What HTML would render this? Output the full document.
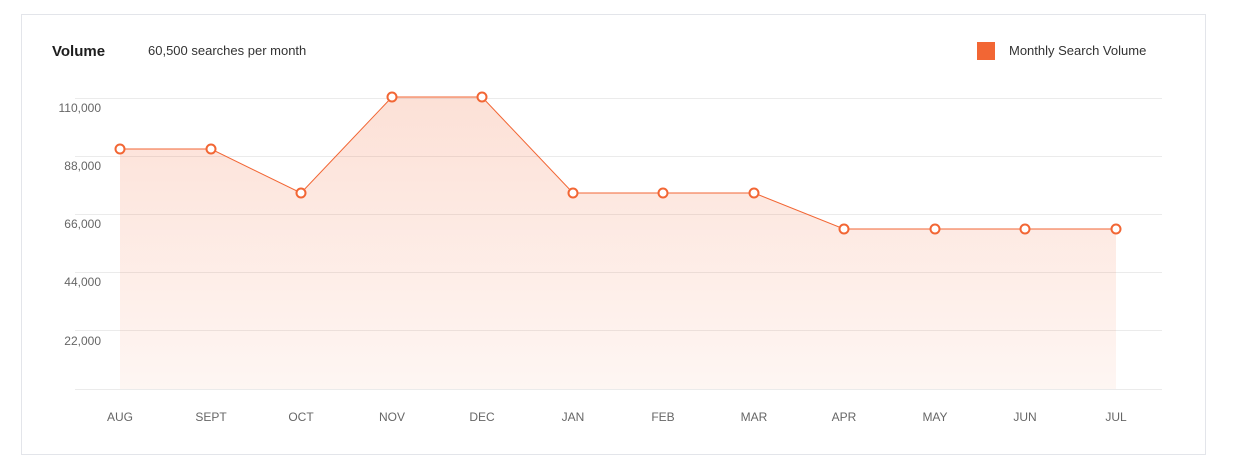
<!DOCTYPE html>
<html><head><style>
body{margin:0;background:#fff;font-family:"Liberation Sans",sans-serif;}
</style></head><body>
<svg width="1235" height="467" xmlns="http://www.w3.org/2000/svg" font-family="Liberation Sans, sans-serif">
<defs><linearGradient id="g" x1="0" y1="0" x2="0" y2="1">
<stop offset="0" stop-color="#f26634" stop-opacity="0.2"/>
<stop offset="1" stop-color="#f26634" stop-opacity="0.06"/></linearGradient></defs>
<rect x="21.5" y="14.5" width="1184" height="440" fill="#fff" stroke="#e3e5ea"/>
<text x="52" y="56" font-size="15" font-weight="bold" fill="#1d1d1d">Volume</text>
<text x="148" y="55" font-size="13" fill="#333">60,500 searches per month</text>
<rect x="977" y="42" width="18" height="18" fill="#f26634"/>
<text x="1009" y="55" font-size="13" fill="#333">Monthly Search Volume</text>
<g stroke="#ebebeb" stroke-width="1">
<line x1="75" y1="98.5" x2="1162" y2="98.5"/><line x1="75" y1="156.5" x2="1162" y2="156.5"/>
<line x1="75" y1="214.5" x2="1162" y2="214.5"/><line x1="75" y1="272.5" x2="1162" y2="272.5"/>
<line x1="75" y1="330.5" x2="1162" y2="330.5"/><line x1="75" y1="389.5" x2="1162" y2="389.5"/>
</g>
<g font-size="12" fill="#666" text-anchor="end">
<text x="101" y="112">110,000</text><text x="101" y="170">88,000</text><text x="101" y="228">66,000</text>
<text x="101" y="286">44,000</text><text x="101" y="345">22,000</text>
</g>
<path d="M120,149 L211,149 L301,193 L392,97 L482,97 L573,193 L663,193 L754,193 L844,229 L935,229 L1025,229 L1116,229 L1116,389 L120,389 Z" fill="url(#g)"/>
<polyline points="120,149 211,149 301,193 392,97 482,97 573,193 663,193 754,193 844,229 935,229 1025,229 1116,229" fill="none" stroke="#f26634" stroke-width="1"/>
<g fill="#fff" stroke="#f26634" stroke-width="2">
<circle cx="120" cy="149" r="4.5"/><circle cx="211" cy="149" r="4.5"/><circle cx="301" cy="193" r="4.5"/>
<circle cx="392" cy="97" r="4.5"/><circle cx="482" cy="97" r="4.5"/><circle cx="573" cy="193" r="4.5"/>
<circle cx="663" cy="193" r="4.5"/><circle cx="754" cy="193" r="4.5"/><circle cx="844" cy="229" r="4.5"/>
<circle cx="935" cy="229" r="4.5"/><circle cx="1025" cy="229" r="4.5"/><circle cx="1116" cy="229" r="4.5"/>
</g>
<g font-size="12" fill="#666" text-anchor="middle">
<text x="120" y="421">AUG</text><text x="211" y="421">SEPT</text><text x="301" y="421">OCT</text>
<text x="392" y="421">NOV</text><text x="482" y="421">DEC</text><text x="573" y="421">JAN</text>
<text x="663" y="421">FEB</text><text x="754" y="421">MAR</text><text x="844" y="421">APR</text>
<text x="935" y="421">MAY</text><text x="1025" y="421">JUN</text><text x="1116" y="421">JUL</text>
</g>
</svg>
</body></html>
